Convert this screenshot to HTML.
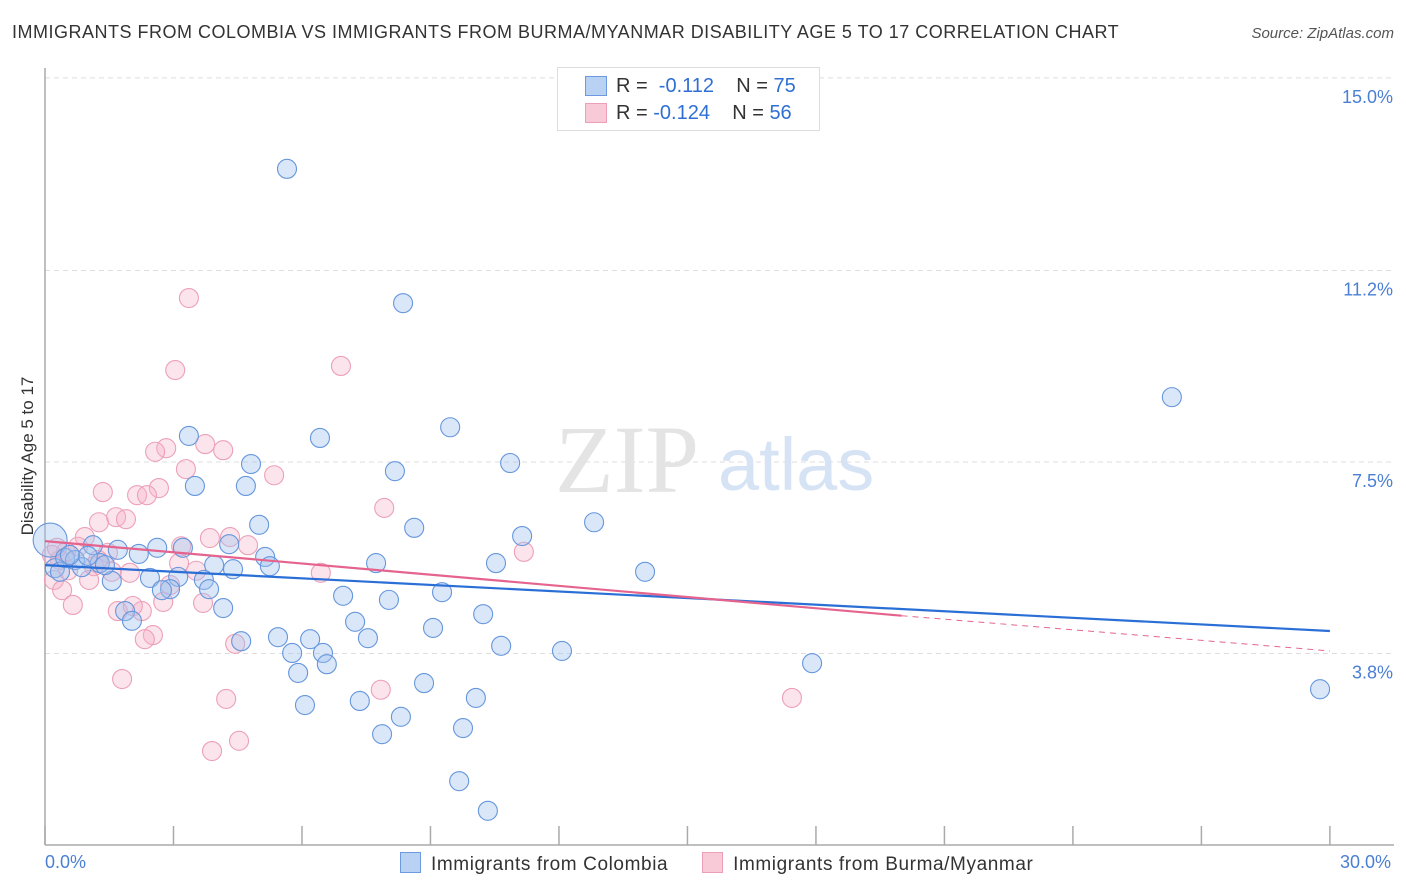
<!DOCTYPE html>
<html><head><meta charset="utf-8"><style>
body{margin:0;background:#fff;font-family:"Liberation Sans",sans-serif;}
#wrap{position:relative;width:1406px;height:892px;overflow:hidden;}
</style></head><body><div id="wrap">
<div style="position:absolute;left:12px;top:22px;font-size:18px;letter-spacing:0.5px;color:#333;">IMMIGRANTS FROM COLOMBIA VS IMMIGRANTS FROM BURMA/MYANMAR DISABILITY AGE 5 TO 17 CORRELATION CHART</div>
<div style="position:absolute;right:12px;top:25px;font-size:15px;color:#555;font-style:italic;">Source: ZipAtlas.com</div>
<svg id="svg" width="1406" height="892" style="position:absolute;left:0;top:0"></svg>
</div>
<script>
const blueX=[5.65,8.36,26.31,9.46,3.36,6.42,4.81,10.86,8.17,3.50,4.69,12.82,8.62,5.00,11.14,4.30,2.62,3.22,1.70,2.19,5.14,7.73,10.53,3.95,4.39,5.25,14.01,3.11,2.45,3.71,1.56,2.92,2.73,3.83,9.27,6.96,8.03,4.16,1.87,10.23,7.24,2.03,9.06,5.44,6.19,7.54,4.58,10.65,12.07,5.77,6.49,6.58,17.91,5.91,8.85,29.77,10.06,7.35,6.07,8.31,9.76,7.87,9.67,10.34,0.12,0.23,0.35,0.47,0.70,0.86,1.12,1.28,1.00,1.40,0.58];
const blueY=[13.24,10.61,8.77,8.18,8.01,7.97,7.46,7.48,7.32,7.03,7.03,6.32,6.21,6.27,6.05,5.89,5.82,5.82,5.78,5.70,5.64,5.52,5.52,5.48,5.40,5.46,5.35,5.25,5.23,5.19,5.17,5.01,4.99,5.01,4.95,4.88,4.80,4.64,4.58,4.52,4.37,4.39,4.25,4.07,4.03,4.05,3.99,3.90,3.80,3.76,3.76,3.54,3.56,3.37,3.17,3.05,2.88,2.82,2.74,2.51,2.29,2.17,1.25,0.67,5.97,5.42,5.35,5.62,5.58,5.44,5.87,5.52,5.66,5.48,5.68];
const pinkX=[3.36,6.91,3.04,3.74,4.16,2.83,2.57,3.29,5.35,2.66,1.35,2.15,2.38,7.92,1.66,1.89,1.26,4.32,3.85,3.18,4.74,0.93,1.47,11.18,0.49,0.35,1.14,3.13,3.53,6.44,1.98,0.21,1.03,0.40,0.65,2.76,3.69,1.70,2.26,2.05,2.52,2.33,4.44,1.80,7.84,17.44,4.23,4.53,3.90,0.16,0.77,1.56,1.24,0.54,2.92,0.28];
const pinkY=[10.71,9.38,9.30,7.85,7.73,7.77,7.70,7.36,7.24,6.99,6.91,6.85,6.85,6.60,6.42,6.38,6.32,6.03,6.01,5.85,5.87,6.03,5.72,5.74,5.74,5.58,5.46,5.52,5.37,5.33,5.33,5.19,5.19,4.99,4.70,4.76,4.74,4.58,4.58,4.68,4.11,4.03,3.94,3.25,3.04,2.88,2.86,2.04,1.84,5.68,5.84,5.35,5.58,5.38,5.09,5.82];
const blueTrend=[5.48,4.19];
const pinkTrend=[5.95,4.49,3.80];
const yTicks=[3.8,7.5,11.2,15.0];
const yTickLabels=["3.8%","7.5%","11.2%","15.0%"];
const xTicks=[0,3,6,9,12,15,18,21,24,27,30];

const NS="http://www.w3.org/2000/svg";
const svg=document.getElementById('svg');
const X=v=>45+v*42.83, Y=v=>845-v*51.07;
function mk(t,a){const e=document.createElementNS(NS,t);for(const k in a)e.setAttribute(k,a[k]);svg.appendChild(e);return e;}
yTicks.forEach((t,i)=>{const yy=Y(t===15?15.02:t===3.8?3.75:t===11.2?11.25:t);
 const g=mk('line',{x1:45,x2:1394,y1:yy,y2:yy,stroke:'#ddd','stroke-dasharray':'5,4'});
 
 const tx=mk('text',{x:1393,y:yy+25,'text-anchor':'end','font-size':18,fill:'#4a7fd4','font-family':'Liberation Sans, sans-serif'});
 tx.textContent=yTickLabels[i];
 });
const ax=mk('line',{x1:45,x2:45,y1:68,y2:845,stroke:'#aaa','stroke-width':1.5});

const bx=mk('line',{x1:45,x2:1394,y1:845,y2:845,stroke:'#aaa','stroke-width':1.5});

xTicks.forEach(t=>{const l=mk('line',{x1:X(t),x2:X(t),y1:826,y2:845,stroke:'#aaa','stroke-width':1.5});
 });
const wm=mk('text',{x:555,y:492,'font-size':96,fill:'#e4e4e4','font-family':'Liberation Serif, serif'});wm.textContent='ZIP';

const wm2=mk('text',{x:718,y:490,'font-size':74,fill:'#d6e3f5','font-family':'Liberation Sans, sans-serif'});wm2.textContent='atlas';

pinkX.forEach((v,i)=>{const c=mk('circle',{cx:X(v),cy:Y(pinkY[i]),r:9.5,fill:'rgba(246,178,200,0.35)',stroke:'#eca0b8','stroke-width':1.1});
 });
blueX.forEach((v,i)=>{const c=mk('circle',{cx:X(v),cy:Y(blueY[i]),r:i==64?17:9.5,fill:'rgba(160,195,240,0.4)',stroke:'#6696dc','stroke-width':1.1});
 });
const bl=mk('line',{x1:X(0),y1:Y(blueTrend[0]),x2:X(30),y2:Y(blueTrend[1]),stroke:'#2a6fd6','stroke-width':2.2});

const pl=mk('line',{x1:X(0),y1:Y(pinkTrend[0]),x2:X(20),y2:Y(pinkTrend[1]),stroke:'#e5648e','stroke-width':2.2});

const pd=mk('line',{x1:X(20),y1:Y(pinkTrend[1]),x2:X(30),y2:Y(pinkTrend[2]),stroke:'#e5648e','stroke-width':1,'stroke-dasharray':'6,5'});

</script>
<div style="position:absolute;left:-52px;top:446px;width:160px;text-align:center;transform:rotate(-90deg);font-size:17px;color:#333;">Disability Age 5 to 17</div>
<div style="position:absolute;left:45px;top:852px;font-size:18px;color:#4a7fd4;">0.0%</div>
<div style="position:absolute;left:1340px;top:852px;font-size:18px;color:#4a7fd4;">30.0%</div>
<div style="position:absolute;left:557px;top:67px;width:261px;height:62px;border:1px solid #ddd;background:#fff;font-size:20px;color:#333;">
 <div style="position:absolute;left:27px;top:8px;width:20px;height:18px;background:#b9d1f3;border:1px solid #6b9ae0;"></div>
 <div style="position:absolute;left:58px;top:7px;">R = &nbsp;<span style="color:#2f6fd3">-0.112</span>&nbsp;&nbsp;&nbsp; N = <span style="color:#2f6fd3">75</span></div>
 <div style="position:absolute;left:27px;top:35px;width:20px;height:18px;background:#f8cad8;border:1px solid #eca0b8;"></div>
 <div style="position:absolute;left:58px;top:34px;">R = <span style="color:#2f6fd3">-0.124</span>&nbsp;&nbsp;&nbsp; N = <span style="color:#2f6fd3">56</span></div>
</div>
<div style="position:absolute;left:400px;top:852px;font-size:19px;letter-spacing:0.6px;color:#333;white-space:nowrap;">
 <span><span style="display:inline-block;width:19px;height:19px;background:#b9d1f3;border:1px solid #6b9ae0;vertical-align:-3px;margin-right:10px;"></span>Immigrants from Colombia</span>
 <span style="margin-left:28px;"><span style="display:inline-block;width:19px;height:19px;background:#f8cad8;border:1px solid #eca0b8;vertical-align:-3px;margin-right:10px;"></span>Immigrants from Burma/Myanmar</span>
</div>
</body></html>
